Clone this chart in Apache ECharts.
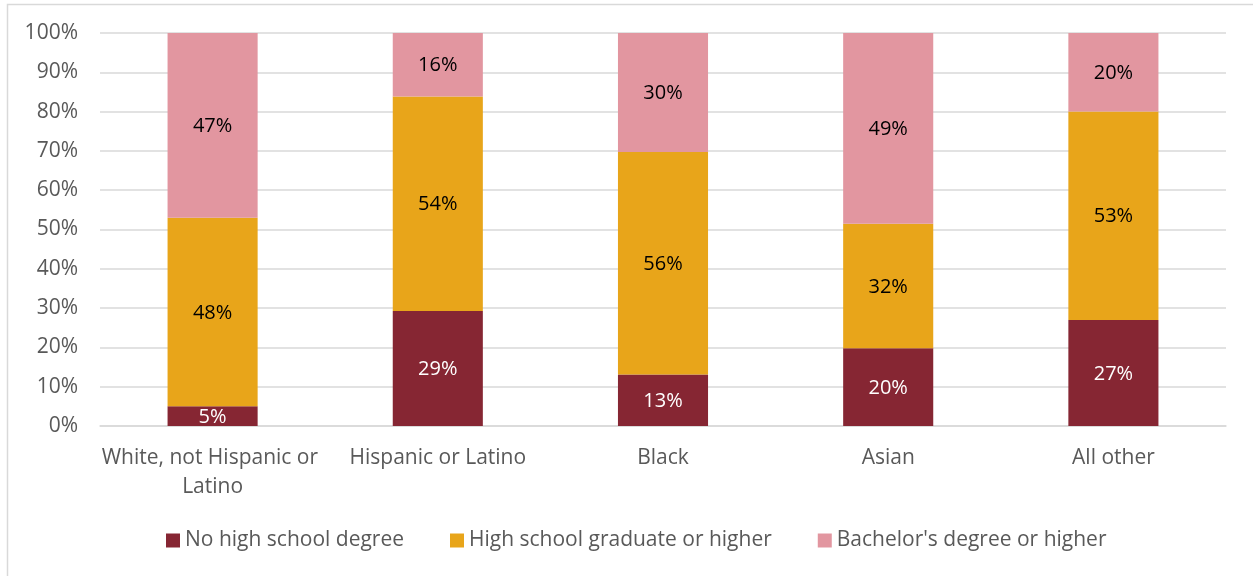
<!DOCTYPE html>
<html>
<head>
<meta charset="utf-8">
<script src="https://cdn.jsdelivr.net/npm/echarts@6/dist/echarts.min.js"></script>
<style>
  html, body { margin: 0; padding: 0; background: #fff; }
  #chart { width: 1253px; height: 576px; }
</style>
</head>
<body>
<div id="chart"></div>
<script>
// Educational attainment by group (shares, %)
const categories = ['White, not Hispanic or Latino', 'Hispanic or Latino', 'Black', 'Asian', 'All other'];
const seriesNames = ['No high school degree', 'High school graduate or higher', "Bachelor's degree or higher"];
const noHighSchool = [5, 29, 13, 20, 27];
const highSchoolGrad = [48, 54, 56, 32, 53];
const bachelors = [47, 16, 30, 49, 20];
const yTickLabels = ['0%', '10%', '20%', '30%', '40%', '50%', '60%', '70%', '80%', '90%', '100%'];

const colors = ['#862633', '#E8A51A', '#E296A0'];
const labelColors = ['#ffffff', '#000000', '#000000'];
const FONT = 'Open Sans';
const AXIS_SIZE = 21;

// 100% stacking: each column is scaled by its own total
const raw = [noHighSchool, highSchoolGrad, bachelors];
const totals = categories.map((_, i) => raw.reduce((s, arr) => s + arr[i], 0));

const series = raw.map((arr, k) => ({
  name: seriesNames[k],
  type: 'bar',
  stack: 'total',
  barWidth: '40%',
  itemStyle: { color: colors[k] },
  data: arr.map((v, i) => ({ value: v / totals[i] * 100, raw: v })),
  label: {
    show: true,
    position: 'inside',
    offset: [0, 1],
    color: labelColors[k],
    fontFamily: FONT,
    fontSize: 20,
    formatter: p => p.data.raw + '%'
  }
}));

const chart = echarts.init(document.getElementById('chart'), null, { renderer: 'canvas' });
chart.setOption({
  animation: false,
  graphic: [{
    type: 'rect',
    shape: { x: 7.5, y: 4.5, width: 1270, height: 600 },
    style: { fill: 'none', stroke: '#D9D9D9', lineWidth: 1.5 },
    silent: true
  }],
  grid: { left: 100, right: 27, top: 33, bottom: 150, containLabel: false },
  legend: {
    bottom: 20,
    left: 161,
    itemWidth: 14,
    itemHeight: 14,
    itemGap: 46,
    icon: 'rect',
    textStyle: { fontFamily: FONT, fontSize: AXIS_SIZE, color: '#595959' },
    data: seriesNames
  },
  xAxis: {
    type: 'category',
    data: categories,
    axisLine: { show: true, lineStyle: { color: '#D9D9D9', width: 1.5 } },
    axisTick: { show: false },
    axisLabel: {
      fontFamily: FONT, fontSize: AXIS_SIZE, color: '#595959',
      margin: 18, lineHeight: 29,
      width: 224, overflow: 'break', interval: 0
    }
  },
  yAxis: {
    type: 'value',
    min: 0, max: 100, interval: 10,
    axisLine: { show: false },
    axisTick: { show: false },
    splitLine: { lineStyle: { color: '#D9D9D9', width: 1.5 } },
    axisLabel: {
      fontFamily: FONT, fontSize: AXIS_SIZE, color: '#595959', margin: 22,
      formatter: v => yTickLabels[Math.round(v / 10)]
    }
  },
  series: series
});
</script>
</body>
</html>
